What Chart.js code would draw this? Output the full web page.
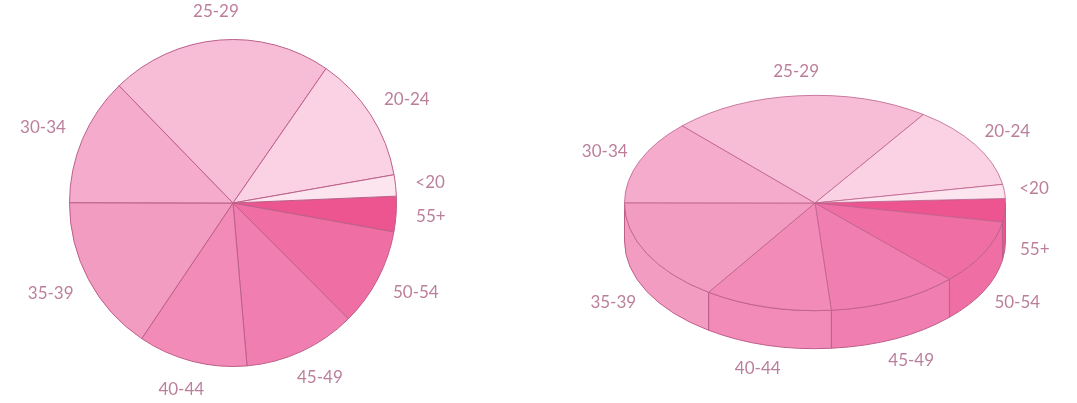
<!DOCTYPE html>
<html>
<head>
<meta charset="utf-8">
<script src="https://cdn.jsdelivr.net/npm/chart.js@4.4.1/dist/chart.umd.min.js"></script>
<style>
body{margin:0;background:#fff;width:1077px;height:403px;overflow:hidden;position:relative}
canvas{position:absolute;top:0}
#flat{left:0}
#tilted{left:540px}
</style>
</head>
<body>
<canvas id="flat" width="540" height="403"></canvas>
<canvas id="tilted" width="537" height="403"></canvas>
<script>
// age groups and their share (%)
const ageGroups = ['<20', '20-24', '25-29', '30-34', '35-39', '40-44', '45-49', '50-54', '55+'];
const shares = [2.1, 12.6, 21.9, 12.7, 15.6, 10.8, 11.1, 9.7, 3.5];
const sliceColors = ['#fce5ef', '#fad2e3', '#f7bdd7', '#f5abcb', '#f39cc2', '#f28bb8', '#f17eb0', '#ef6fa5', '#ec5590'];
const lineColor = '#bd5f8a';

// chart.js goes clockwise, the picture starts at 55+ just above 3 o'clock
const order = ageGroups.map((_, i) => i).reverse();

function buildData() {
    return {
        labels: order.map(i => ageGroups[i]),
        datasets: [{
            data: order.map(i => shares[i]),
            backgroundColor: order.map(i => sliceColors[i]),
            borderColor: lineColor,
            borderWidth: 1
        }]
    };
}

// labels outside the pie (or ellipse)
const outsideLabels = {
    id: 'outsideLabels',
    afterDraw(chart, args, opts) {
        const ctx = chart.ctx;
        const squash = opts.squash || 1;
        const depth = opts.depth || 0;
        const gap = opts.gap || 12;
        ctx.save();
        ctx.font = '17px Lato';
        ctx.fillStyle = '#bb7f9b';
        ctx.textAlign = 'center';
        ctx.textBaseline = 'middle';
        chart.getDatasetMeta(0).data.forEach((arc, i) => {
            const mid = (arc.startAngle + arc.endAngle) / 2;
            const c = Math.cos(mid), s = Math.sin(mid);
            const rx = arc.outerRadius, ry = rx * squash;
            const label = chart.data.labels[i];
            const w = ctx.measureText(label).width;
            const x = arc.x + c * (rx + gap) + c * w / 2;
            const y = arc.y + s * (ry + gap) + s * 9 + (s > 0 ? depth : 0);
            ctx.fillText(label, x, y);
        });
        ctx.restore();
    }
};

// fake 3d: squash the pie and draw the front wall under it
const tilt = {
    id: 'tilt',
    beforeDatasetsDraw(chart, args, opts) {
        const ctx = chart.ctx;
        const k = opts.squash, depth = opts.depth;
        const arcs = chart.getDatasetMeta(0).data;
        ctx.save();
        arcs.forEach(arc => {
            const a1 = Math.max(arc.startAngle, 0);
            const a2 = Math.min(arc.endAngle, Math.PI);
            if (a2 <= a1) return;
            const rx = arc.outerRadius, ry = rx * k;
            ctx.beginPath();
            ctx.ellipse(arc.x, arc.y, rx, ry, 0, a1, a2);
            ctx.ellipse(arc.x, arc.y + depth, rx, ry, 0, a2, a1, true);
            ctx.closePath();
            ctx.fillStyle = arc.options.backgroundColor;
            ctx.fill();
            ctx.strokeStyle = lineColor;
            ctx.lineWidth = 1;
            ctx.stroke();
        });
        ctx.restore();

        const first = arcs[0];
        ctx.save();
        ctx.translate(first.x, first.y);
        ctx.scale(1, k);
        ctx.translate(-first.x, -first.y);
    },
    afterDatasetsDraw(chart) {
        chart.ctx.restore();
    }
};

const baseOptions = {
    responsive: false,
    animation: false,
    rotation: 87.6,
    events: [],
    plugins: {
        legend: { display: false },
        tooltip: { enabled: false }
    }
};

new Chart(document.getElementById('flat').getContext('2d'), {
    type: 'pie',
    data: buildData(),
    options: {
        ...baseOptions,
        layout: { padding: { left: 0, right: 74, top: 39, bottom: 36 } },
        plugins: { ...baseOptions.plugins, outsideLabels: { gap: 20 } }
    },
    plugins: [outsideLabels]
});

new Chart(document.getElementById('tilted').getContext('2d'), {
    type: 'pie',
    data: buildData(),
    options: {
        ...baseOptions,
        layout: { padding: { left: 13, right: 0, top: 12, bottom: 9 } },
        plugins: {
            ...baseOptions.plugins,
            tilt: { squash: 0.565, depth: 38 },
            outsideLabels: { squash: 0.565, depth: 38, gap: 15 }
        }
    },
    plugins: [tilt, outsideLabels]
});
</script>
</body>
</html>
